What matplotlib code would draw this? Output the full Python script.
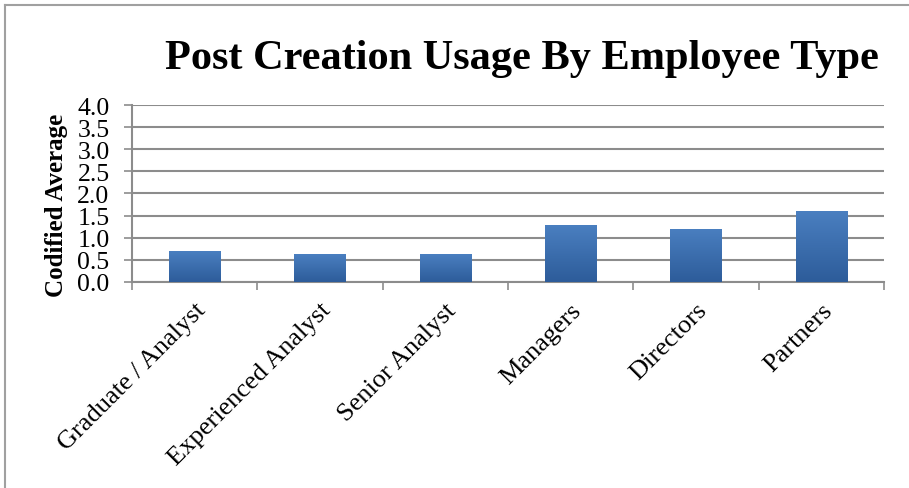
import numpy as np
import matplotlib.pyplot as plt
from matplotlib.lines import Line2D
from matplotlib.colors import LinearSegmentedColormap

# %%
# Data
categories = ["Graduate / Analyst", "Experienced Analyst", "Senior Analyst",
              "Managers", "Directors", "Partners"]
values = [0.69, 0.63, 0.63, 1.28, 1.20, 1.60]
yticks = [0.0, 0.5, 1.0, 1.5, 2.0, 2.5, 3.0, 3.5, 4.0]

plt.rcParams["font.family"] = ["Liberation Serif", "DejaVu Serif"]

fig = plt.figure(figsize=(9.09, 4.89), dpi=100)
ax = fig.add_axes([0.145, 0.4213, 0.8275, 0.3619])

# %%
# Bars with a vertical blue gradient
x = np.arange(len(categories))
bars = ax.bar(x, values, width=0.41, color="#3a6eb0", zorder=3)
cmap = LinearSegmentedColormap.from_list("bluegrad", ["#2d5c9a", "#4a7fc0"])
grad = np.linspace(0, 1, 256).reshape(-1, 1)
for b in bars:
    x0, y0 = b.get_x(), b.get_y()
    w, h = b.get_width(), b.get_height()
    im = ax.imshow(grad, cmap=cmap, origin="lower", aspect="auto",
                   extent=(x0, x0 + w, y0, y0 + h), zorder=4)
    im.set_clip_path(b)

ax.set_xlim(-0.5, len(categories) - 0.5)
ax.set_ylim(0, 4.0)

# gridlines and axes
ax.set_yticks(yticks)
ax.set_yticklabels([f"{t:.1f}" for t in yticks], fontsize=18.5)
ax.yaxis.grid(True, color="#8c8c8c", linewidth=1.5, zorder=0)
ax.tick_params(axis="y", length=6, color="#8c8c8c", width=1.2, pad=10)

ax.set_xticks(x)
ax.set_xticklabels(categories, fontsize=19, rotation=45, ha="right",
                   va="top", rotation_mode="anchor")
ax.tick_params(axis="x", which="major", length=0, pad=12)
ax.set_xticks(np.arange(len(categories) + 1) - 0.5, minor=True)
ax.tick_params(axis="x", which="minor", length=6, color="#8c8c8c", width=1.2)

for side in ["top", "right"]:
    ax.spines[side].set_visible(False)
for side in ["left", "bottom"]:
    ax.spines[side].set_color("#8c8c8c")
    ax.spines[side].set_linewidth(1.5)

# %%
# Titles and border (top and left edges only)
fig.text(0.574, 0.880, "Post Creation Usage By Employee Type", fontsize=30.5,
         fontweight="bold", ha="center", va="center")
fig.text(0.062, 0.58, "Codified Average", fontsize=18, fontweight="bold",
         rotation=90, ha="center", va="center")

fig.add_artist(Line2D([0.0055, 1.0], [0.988, 0.988], transform=fig.transFigure,
                      color="#a0a0a0", linewidth=1.5))
fig.add_artist(Line2D([0.0055, 0.0055], [0.0, 0.988], transform=fig.transFigure,
                      color="#a0a0a0", linewidth=1.5))

fig.savefig("out.png", dpi=100)
